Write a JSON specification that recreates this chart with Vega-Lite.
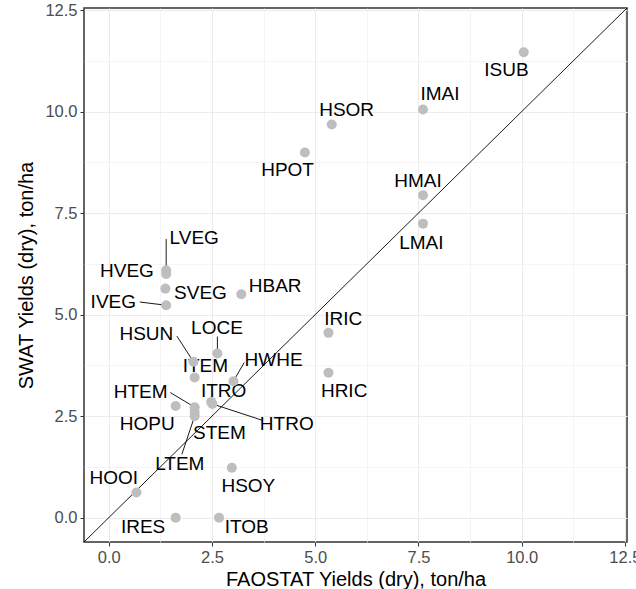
{
  "$schema": "https://vega.github.io/schema/vega-lite/v6.json",
  "width": 543,
  "height": 534,
  "autosize": {"type": "none"},
  "padding": {"left": 84, "top": 8, "right": 9, "bottom": 47},
  "background": "white",
  "config": {
    "font": "Liberation Sans",
    "view": {"stroke": "#333333", "strokeWidth": 1.5},
    "axis": {
      "domain": false,
      "labelFont": "Liberation Sans",
      "labelFontSize": 16.5,
      "labelColor": "#4D4D4D",
      "labelOverlap": false,
      "labelFlush": false,
      "labelBound": false,
      "tickSize": 4,
      "tickColor": "#333333",
      "tickWidth": 1,
      "titleFont": "Liberation Sans",
      "titleFontSize": 20,
      "titleFontWeight": "normal",
      "titleColor": "#000000",
      "gridWidth": {"condition": {"test": "datum.value % 2.5 === 0", "value": 1.1}, "value": 0.7},
      "gridColor": {"condition": {"test": "datum.value % 2.5 === 0", "value": "#EBEBEB"}, "value": "#F0F0F0"},
      "tickOpacity": {"condition": {"test": "datum.value % 2.5 === 0", "value": 1}, "value": 0}
    }
  },
  "datasets": {
    "pts": [
      {"crop": "ISUB", "x": 10.05, "y": 11.46, "lx": 9.63, "ly": 11.03},
      {"crop": "IMAI", "x": 7.61, "y": 10.05, "lx": 8.02, "ly": 10.42},
      {"crop": "HSOR", "x": 5.40, "y": 9.68, "lx": 5.76, "ly": 10.05},
      {"crop": "HPOT", "x": 4.75, "y": 8.99, "lx": 4.33, "ly": 8.56},
      {"crop": "HMAI", "x": 7.61, "y": 7.94, "lx": 7.49, "ly": 8.29},
      {"crop": "LMAI", "x": 7.61, "y": 7.24, "lx": 7.57, "ly": 6.77},
      {"crop": "IRIC", "x": 5.32, "y": 4.55, "lx": 5.68, "ly": 4.90},
      {"crop": "HRIC", "x": 5.32, "y": 3.57, "lx": 5.70, "ly": 3.12},
      {"crop": "LVEG", "x": 1.39, "y": 6.09, "lx": 2.07, "ly": 6.88},
      {"crop": "HVEG", "x": 1.39, "y": 6.00, "lx": 0.44, "ly": 6.07},
      {"crop": "SVEG", "x": 1.37, "y": 5.64, "lx": 2.22, "ly": 5.54},
      {"crop": "IVEG", "x": 1.39, "y": 5.23, "lx": 0.11, "ly": 5.30},
      {"crop": "HBAR", "x": 3.21, "y": 5.50, "lx": 4.03, "ly": 5.70},
      {"crop": "LOCE", "x": 2.63, "y": 4.04, "lx": 2.62, "ly": 4.66},
      {"crop": "HSUN", "x": 2.05, "y": 3.84, "lx": 0.91, "ly": 4.51},
      {"crop": "ITEM", "x": 2.08, "y": 3.45, "lx": 2.34, "ly": 3.73},
      {"crop": "HWHE", "x": 3.02, "y": 3.36, "lx": 3.99, "ly": 3.88},
      {"crop": "ITRO", "x": 2.48, "y": 2.85, "lx": 2.78, "ly": 3.12},
      {"crop": "HTRO", "x": 2.51, "y": 2.80, "lx": 4.31, "ly": 2.31},
      {"crop": "HOPU", "x": 1.62, "y": 2.75, "lx": 0.93, "ly": 2.30},
      {"crop": "HTEM", "x": 2.08, "y": 2.72, "lx": 0.77, "ly": 3.10},
      {"crop": "STEM", "x": 2.08, "y": 2.60, "lx": 2.68, "ly": 2.09},
      {"crop": "LTEM", "x": 2.08, "y": 2.50, "lx": 1.72, "ly": 1.31},
      {"crop": "HOOI", "x": 0.67, "y": 0.62, "lx": 0.12, "ly": 0.98},
      {"crop": "HSOY", "x": 2.98, "y": 1.23, "lx": 3.38, "ly": 0.78},
      {"crop": "IRES", "x": 1.62, "y": 0.00, "lx": 0.83, "ly": -0.22},
      {"crop": "ITOB", "x": 2.67, "y": 0.00, "lx": 3.34, "ly": -0.22}
    ],
    "segs": [
      {"crop": "LVEG", "x": 1.39, "y": 6.09, "sx": 1.39, "sy": 6.86},
      {"crop": "IVEG", "x": 1.39, "y": 5.23, "sx": 0.75, "sy": 5.31},
      {"crop": "HSUN", "x": 2.05, "y": 3.84, "sx": 1.65, "sy": 4.47},
      {"crop": "LOCE", "x": 2.63, "y": 4.04, "sx": 2.63, "sy": 4.46},
      {"crop": "HWHE", "x": 3.02, "y": 3.36, "sx": 3.28, "sy": 3.82},
      {"crop": "HTEM", "x": 2.08, "y": 2.72, "sx": 1.49, "sy": 3.08},
      {"crop": "HTRO", "x": 2.51, "y": 2.80, "sx": 3.71, "sy": 2.40},
      {"crop": "LTEM", "x": 2.08, "y": 2.50, "sx": 1.77, "sy": 1.56}
    ],
    "diag": [
      {"x": -0.6, "y": -0.6},
      {"x": 12.55, "y": 12.55}
    ]
  },
  "layer": [
    {
      "data": {"name": "diag"},
      "mark": {"type": "line", "color": "#000000", "strokeWidth": 0.9, "clip": true},
      "encoding": {
        "x": {
          "field": "x", "type": "quantitative",
          "scale": {"domain": [-0.6, 12.55], "nice": false, "zero": false},
          "axis": {
            "title": "FAOSTAT Yields (dry), ton/ha",
            "values": [0, 1.25, 2.5, 3.75, 5, 6.25, 7.5, 8.75, 10, 11.25, 12.5],
            "labelExpr": "datum.value % 2.5 === 0 ? format(datum.value, '.1f') : ''",
            "labelPadding": 3,
            "titlePadding": 4
          }
        },
        "y": {
          "field": "y", "type": "quantitative",
          "scale": {"domain": [-0.6, 12.55], "nice": false, "zero": false},
          "axis": {
            "title": "SWAT Yields (dry), ton/ha",
            "values": [0, 1.25, 2.5, 3.75, 5, 6.25, 7.5, 8.75, 10, 11.25, 12.5],
            "labelExpr": "datum.value % 2.5 === 0 ? format(datum.value, '.1f') : ''",
            "labelPadding": 3,
            "titlePadding": 8
          }
        }
      }
    },
    {
      "data": {"name": "segs"},
      "mark": {"type": "rule", "color": "#000000", "strokeWidth": 0.9},
      "encoding": {
        "x": {"field": "x", "type": "quantitative"},
        "y": {"field": "y", "type": "quantitative"},
        "x2": {"field": "sx"},
        "y2": {"field": "sy"}
      }
    },
    {
      "data": {"name": "pts"},
      "mark": {"type": "text", "font": "Liberation Sans", "fontSize": 19, "color": "#000000", "align": "center", "baseline": "middle"},
      "encoding": {
        "x": {"field": "lx", "type": "quantitative"},
        "y": {"field": "ly", "type": "quantitative"},
        "text": {"field": "crop"}
      }
    },
    {
      "data": {"name": "pts"},
      "mark": {"type": "circle", "size": 100, "color": "#BEBEBE", "opacity": 1},
      "encoding": {
        "x": {"field": "x", "type": "quantitative"},
        "y": {"field": "y", "type": "quantitative"}
      }
    }
  ]
}
